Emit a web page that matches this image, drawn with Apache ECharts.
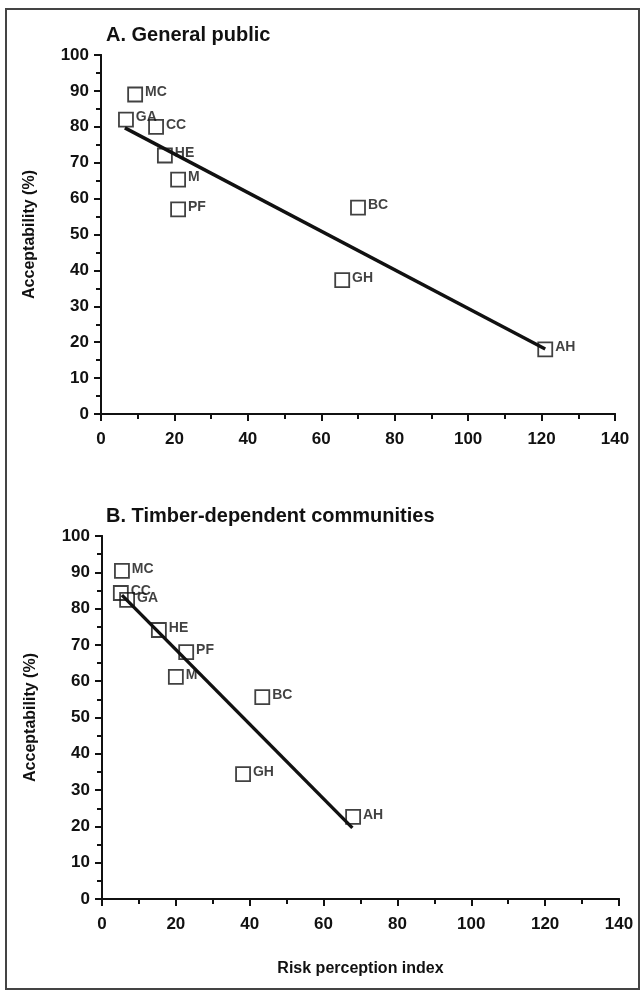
<!DOCTYPE html>
<html><head><meta charset="utf-8">
<script src="https://cdn.jsdelivr.net/npm/echarts@6/dist/echarts.min.js"></script>
<style>html,body{margin:0;padding:0;background:#fff}#c{width:643px;height:996px}</style>
</head><body><div id="c"></div>
<script>
// Panel A: General public
const labelsA = ['MC','GA','CC','HE','M','PF','BC','GH','AH'];
const riskA   = [9.3, 6.8, 15, 17.4, 21, 21, 70, 65.7, 121];
const accA    = [89, 82, 80, 72, 65.3, 57, 57.5, 37.3, 18];
const fitA_x  = [6.5, 121];
const fitA_y  = [79.7, 18.1];
// Panel B: Timber-dependent communities
const labelsB = ['MC','CC','GA','HE','PF','M','BC','GH','AH'];
const riskB   = [5.4, 5.1, 6.8, 15.4, 22.8, 20, 43.4, 38.2, 68];
const accB    = [90.4, 84.3, 82.4, 74.1, 68, 61.2, 55.6, 34.4, 22.6];
const fitB_x  = [5.4, 67.8];
const fitB_y  = [83.7, 19.6];
const xTicks = [0,20,40,60,80,100,120,140];
const yTicks = [0,10,20,30,40,50,60,70,80,90,100];

const FONT = '"Liberation Sans", Arial, Helvetica, sans-serif';
const INK = '#111';
const chart = echarts.init(document.getElementById('c'), null, {renderer:'canvas'});

function xAxis(gi, showName){
  return {
    type:'value', gridIndex:gi, min:0, max:140, interval:20,
    name: showName ? 'Risk perception index' : '',
    nameLocation:'middle', nameGap:62,
    nameTextStyle:{fontFamily:FONT, fontWeight:'bold', fontSize:16, color:INK},
    axisLine:{show:true, onZero:false, lineStyle:{color:INK, width:2}},
    axisTick:{show:true, inside:false, length:7, lineStyle:{color:INK, width:2}},
    minorTick:{show:true, splitNumber:2, length:5, lineStyle:{color:INK, width:2}},
    axisLabel:{fontFamily:FONT, fontWeight:'bold', fontSize:17, color:INK, margin:17,
      formatter:v=>xTicks.includes(v)?String(v):''},
    splitLine:{show:false}
  };
}
function xTopBorder(gi){
  return {type:'value', gridIndex:gi, position:'top', min:0, max:140,
    axisLine:{show:true, lineStyle:{color:INK, width:2}}, axisTick:{show:false},
    axisLabel:{show:false}, splitLine:{show:false}};
}
function yAxis(gi){
  return {
    type:'value', gridIndex:gi, min:0, max:100, interval:10,
    name:'Acceptability (%)', nameLocation:'middle', nameGap:63, nameRotate:90,
    nameTextStyle:{fontFamily:FONT, fontWeight:'bold', fontSize:16, color:INK},
    axisLine:{show:true, onZero:false, lineStyle:{color:INK, width:2}},
    axisTick:{show:true, inside:false, length:7, lineStyle:{color:INK, width:2}},
    minorTick:{show:true, splitNumber:2, length:5, lineStyle:{color:INK, width:2}},
    axisLabel:{fontFamily:FONT, fontWeight:'bold', fontSize:17, color:INK, margin:12,
      formatter:v=>yTicks.includes(v)?String(v):''},
    splitLine:{show:false}
  };
}
function yRightBorder(gi){
  return {type:'value', gridIndex:gi, position:'right', min:0, max:100,
    axisLine:{show:true, lineStyle:{color:INK, width:2}}, axisTick:{show:false},
    axisLabel:{show:false}, splitLine:{show:false}};
}
function scatter(xi, yi, xs, ys, labs){
  return {
    type:'scatter', xAxisIndex:xi, yAxisIndex:yi, symbol:'rect', symbolSize:14,
    itemStyle:{color:'rgba(255,255,255,0)', borderColor:INK, borderWidth:1.8},
    label:{show:true, position:'right', distance:2, offset:[0,-2],
      formatter:p=>p.data[2], fontFamily:FONT, fontWeight:'bold', fontSize:14, color:INK},
    data: xs.map((x,i)=>[x, ys[i], labs[i]]), z:3
  };
}
function fit(xi, yi, xs, ys){
  return {type:'line', xAxisIndex:xi, yAxisIndex:yi, symbol:'none',
    lineStyle:{color:INK, width:3.4}, data: xs.map((x,i)=>[x, ys[i]]), z:2, silent:true};
}

chart.setOption({
  backgroundColor:'#fff',
  animation:false,
  title:[
    {text:'A. General public', left:101, top:20,
      textStyle:{fontFamily:FONT, fontWeight:'bold', fontSize:20, color:INK}},
    {text:'B. Timber-dependent communities', left:101, top:501,
      textStyle:{fontFamily:FONT, fontWeight:'bold', fontSize:20, color:INK}}
  ],
  graphic:[{type:'rect', shape:{x:6, y:9, width:633, height:980},
    style:{fill:'none', stroke:'#444', lineWidth:2}, z:-1}],
  grid:[
    {left:101, right:28, top:55, bottom:582},
    {left:102, right:24, top:536, bottom:97}
  ],
  xAxis:[xAxis(0,false), xTopBorder(0), xAxis(1,true), xTopBorder(1)],
  yAxis:[yAxis(0), yRightBorder(0), yAxis(1), yRightBorder(1)],
  series:[
    fit(0,0,fitA_x,fitA_y),
    scatter(0,0,riskA,accA,labelsA),
    fit(2,2,fitB_x,fitB_y),
    scatter(2,2,riskB,accB,labelsB)
  ]
});
</script></body></html>
